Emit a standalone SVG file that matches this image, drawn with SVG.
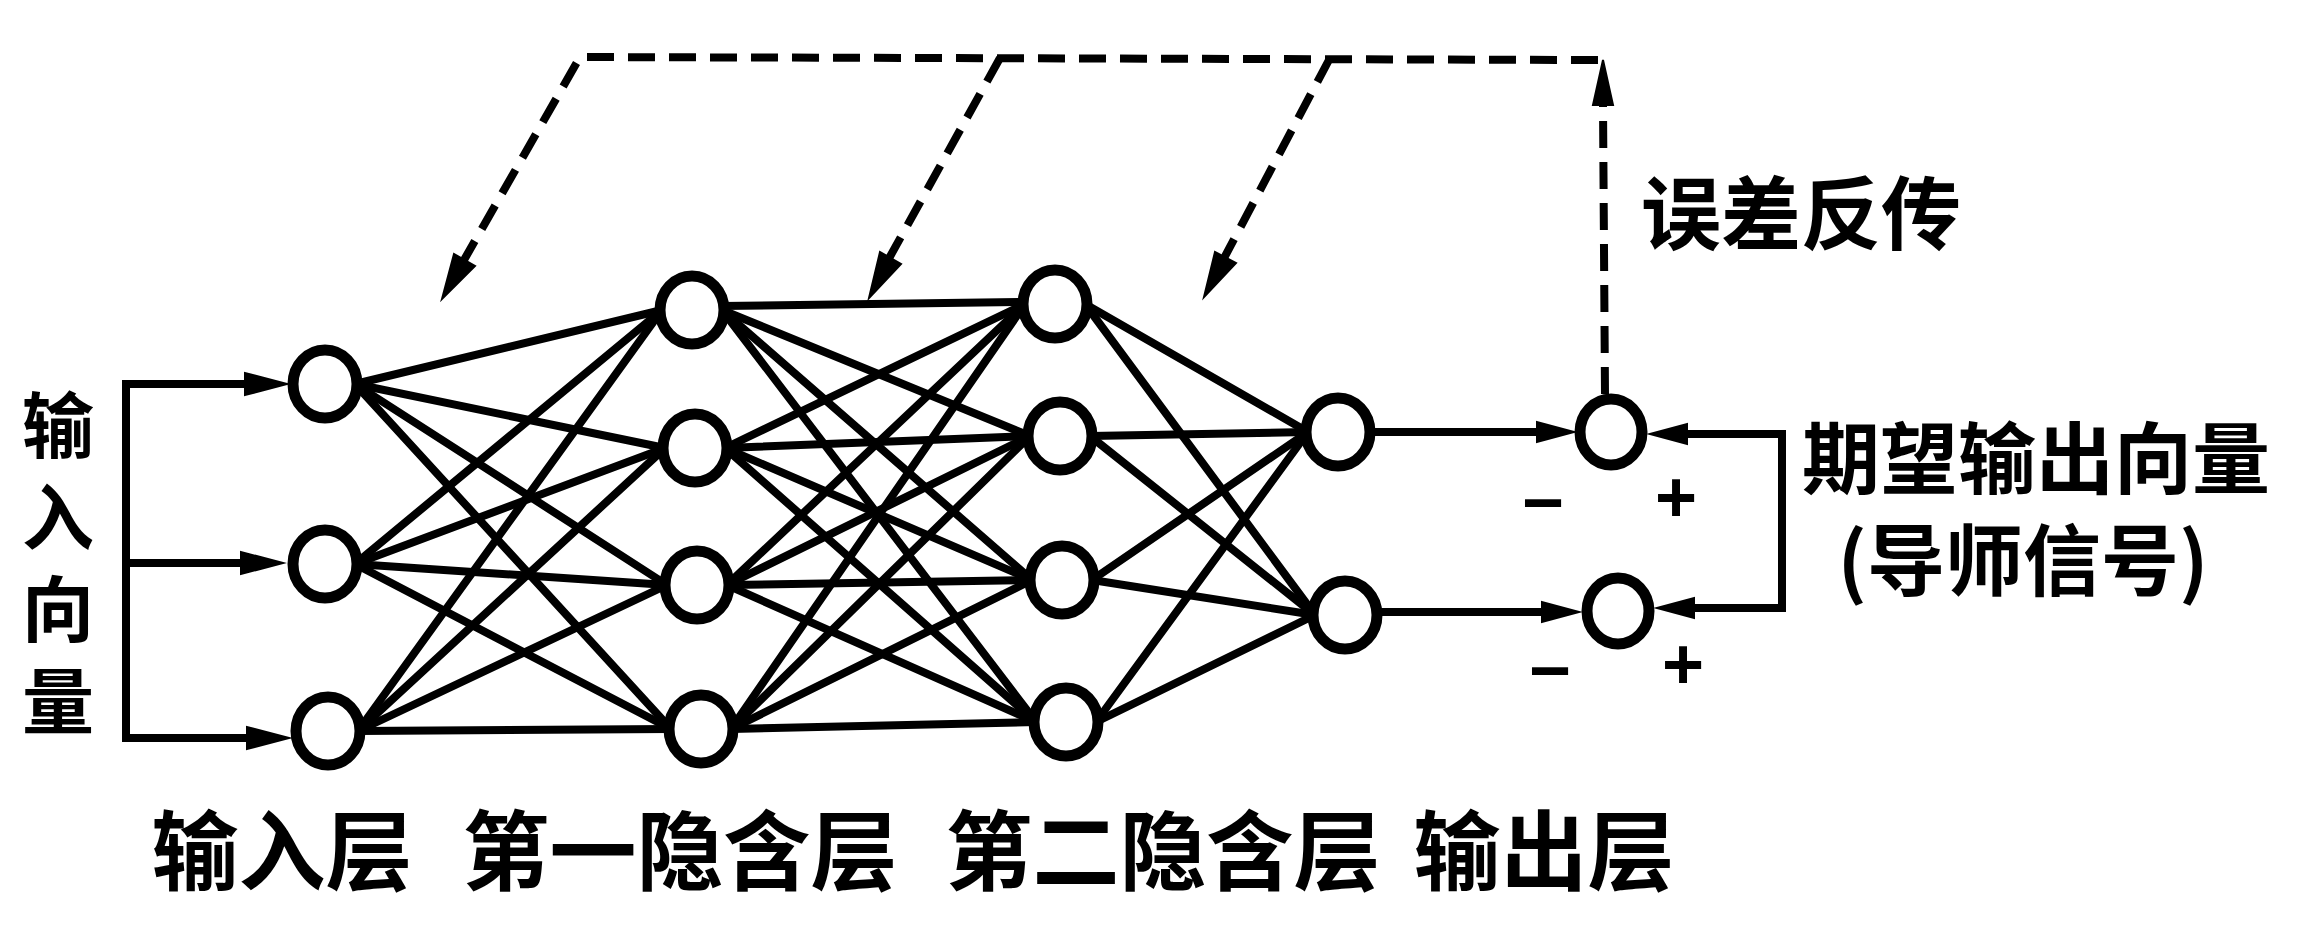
<svg xmlns="http://www.w3.org/2000/svg" width="2304" height="936" viewBox="0 0 2304 936">
<style>
.node{fill:#fff;stroke:#000;stroke-width:11}
.w{stroke:#000;stroke-width:8;fill:none;stroke-linecap:round}
.d{stroke:#000;stroke-width:8;fill:none;stroke-dasharray:27 14}
.ah{fill:#000;stroke:#000;stroke-width:2;stroke-linejoin:miter}
.t{font-family:"Noto Sans CJK SC","Noto Sans CJK TC",sans-serif;font-weight:bold;fill:#000;text-anchor:middle}
.s{font-family:"Liberation Sans",Arial,sans-serif;font-weight:bold;fill:#000;font-size:72px;text-anchor:middle}
</style>
<rect width="2304" height="936" fill="#fff"/>
<g id="connectors">
<g id="w-in-h1" class="w">
<line x1="355" y1="384" x2="662" y2="310"/><line x1="355" y1="384" x2="665" y2="448"/><line x1="355" y1="384" x2="667" y2="585"/><line x1="355" y1="384" x2="671" y2="729"/>
<line x1="355" y1="564" x2="662" y2="310"/><line x1="355" y1="564" x2="665" y2="448"/><line x1="355" y1="564" x2="667" y2="585"/><line x1="355" y1="564" x2="671" y2="729"/>
<line x1="358" y1="731" x2="662" y2="310"/><line x1="358" y1="731" x2="665" y2="448"/><line x1="358" y1="731" x2="667" y2="585"/><line x1="358" y1="731" x2="671" y2="729"/>
</g>
<g id="w-h1-h2" class="w">
<line x1="722" y1="306" x2="1025" y2="302"/><line x1="722" y1="310" x2="1030" y2="436"/><line x1="722" y1="310" x2="1032" y2="580"/><line x1="722" y1="310" x2="1036" y2="722"/>
<line x1="725" y1="448" x2="1025" y2="304"/><line x1="725" y1="448" x2="1030" y2="436"/><line x1="725" y1="448" x2="1032" y2="580"/><line x1="725" y1="448" x2="1036" y2="722"/>
<line x1="727" y1="585" x2="1025" y2="304"/><line x1="727" y1="585" x2="1030" y2="436"/><line x1="727" y1="585" x2="1032" y2="580"/><line x1="727" y1="585" x2="1036" y2="722"/>
<line x1="731" y1="729" x2="1025" y2="304"/><line x1="731" y1="729" x2="1030" y2="436"/><line x1="731" y1="729" x2="1032" y2="580"/><line x1="731" y1="729" x2="1036" y2="722"/>
</g>
<g id="w-h2-out" class="w">
<line x1="1085" y1="304" x2="1308" y2="432"/><line x1="1085" y1="304" x2="1315" y2="615"/>
<line x1="1090" y1="436" x2="1308" y2="432"/><line x1="1090" y1="436" x2="1315" y2="615"/>
<line x1="1092" y1="580" x2="1308" y2="432"/><line x1="1092" y1="580" x2="1315" y2="615"/>
<line x1="1096" y1="722" x2="1308" y2="432"/><line x1="1096" y1="722" x2="1315" y2="615"/>
</g>
<g id="input-feed">
<path class="w" d="M250,384 H126 V738 H252 M126,563 H246" stroke-linecap="butt" stroke-linejoin="miter"/>
<polygon class="ah" points="287,384 245,373 245,395"/>
<polygon class="ah" points="283,563 241,552 241,574"/>
<polygon class="ah" points="289,738 247,727 247,749"/>
</g>
<g id="out-to-compare">
<path class="w" d="M1370,432 H1540 M1377,612 H1544"/>
<polygon class="ah" points="1574,432 1537,422 1537,442"/>
<polygon class="ah" points="1579,612 1542,602 1542,622"/>
</g>
<g id="teacher-feed">
<path class="w" d="M1684,434 H1782 V608 H1690" stroke-linecap="butt" stroke-linejoin="miter"/>
<polygon class="ah" points="1650,434 1687,424 1687,444"/>
<polygon class="ah" points="1657,608 1694,598 1694,618"/>
</g>
<g id="error-backprop">
<path class="d" d="M1605,394 L1603,104" stroke-dasharray="34 16"/>
<polygon class="ah" points="1603,60 1593,105 1613,105"/>
<path class="d" d="M1598,60 L580,57 L460,267"/>
<polygon class="ah" points="442,299 454,254 475,266"/>
<path class="d" d="M1000,58 L887,262"/>
<polygon class="ah" points="869,298 880,252 901,264"/>
<path class="d" d="M1330,58 L1222,262"/>
<polygon class="ah" points="1204,297 1215,252 1236,263"/>
</g>
</g>
<g id="input-layer">
<ellipse id="i1" class="node" cx="325" cy="384" rx="32" ry="34"/>
<ellipse id="i2" class="node" cx="325" cy="564" rx="32" ry="34"/>
<ellipse id="i3" class="node" cx="328" cy="731" rx="32" ry="34"/>
</g>
<g id="hidden-layer-1">
<ellipse id="h1a" class="node" cx="692" cy="310" rx="32" ry="34"/>
<ellipse id="h1b" class="node" cx="695" cy="448" rx="32" ry="34"/>
<ellipse id="h1c" class="node" cx="697" cy="585" rx="32" ry="34"/>
<ellipse id="h1d" class="node" cx="701" cy="729" rx="32" ry="34"/>
</g>
<g id="hidden-layer-2">
<ellipse id="h2a" class="node" cx="1055" cy="304" rx="32" ry="34"/>
<ellipse id="h2b" class="node" cx="1060" cy="436" rx="32" ry="34"/>
<ellipse id="h2c" class="node" cx="1062" cy="580" rx="32" ry="34"/>
<ellipse id="h2d" class="node" cx="1066" cy="722" rx="32" ry="34"/>
</g>
<g id="output-layer">
<ellipse id="o1" class="node" cx="1338" cy="432" rx="32" ry="34"/>
<ellipse id="o2" class="node" cx="1345" cy="615" rx="32" ry="34"/>
</g>
<g id="comparators">
<ellipse id="c1" class="node" cx="1611" cy="432" rx="31" ry="33"/>
<ellipse id="c2" class="node" cx="1618" cy="611" rx="31" ry="33"/>
<text class="s" x="1543" y="527">−</text>
<text class="s" x="1676" y="522">+</text>
<text class="s" x="1550" y="695">−</text>
<text class="s" x="1683" y="689">+</text>
</g>
<g id="labels">
<text class="t" font-size="72" x="58" y="573" style="writing-mode:vertical-rl;letter-spacing:20px">输入向量</text>
<text class="t" font-size="87" x="282" y="884">输入层</text>
<text class="t" font-size="87" x="680" y="884">第一隐含层</text>
<text class="t" font-size="87" x="1163" y="884">第二隐含层</text>
<text class="t" font-size="87" x="1544" y="884">输出层</text>
<text class="t" font-size="80" x="1801" y="243">误差反传</text>
<text class="t" font-size="78" x="2036" y="488">期望输出向量</text>
<text class="t" font-size="78" x="2023" y="590">(导师信号)</text>
</g>
</svg>
